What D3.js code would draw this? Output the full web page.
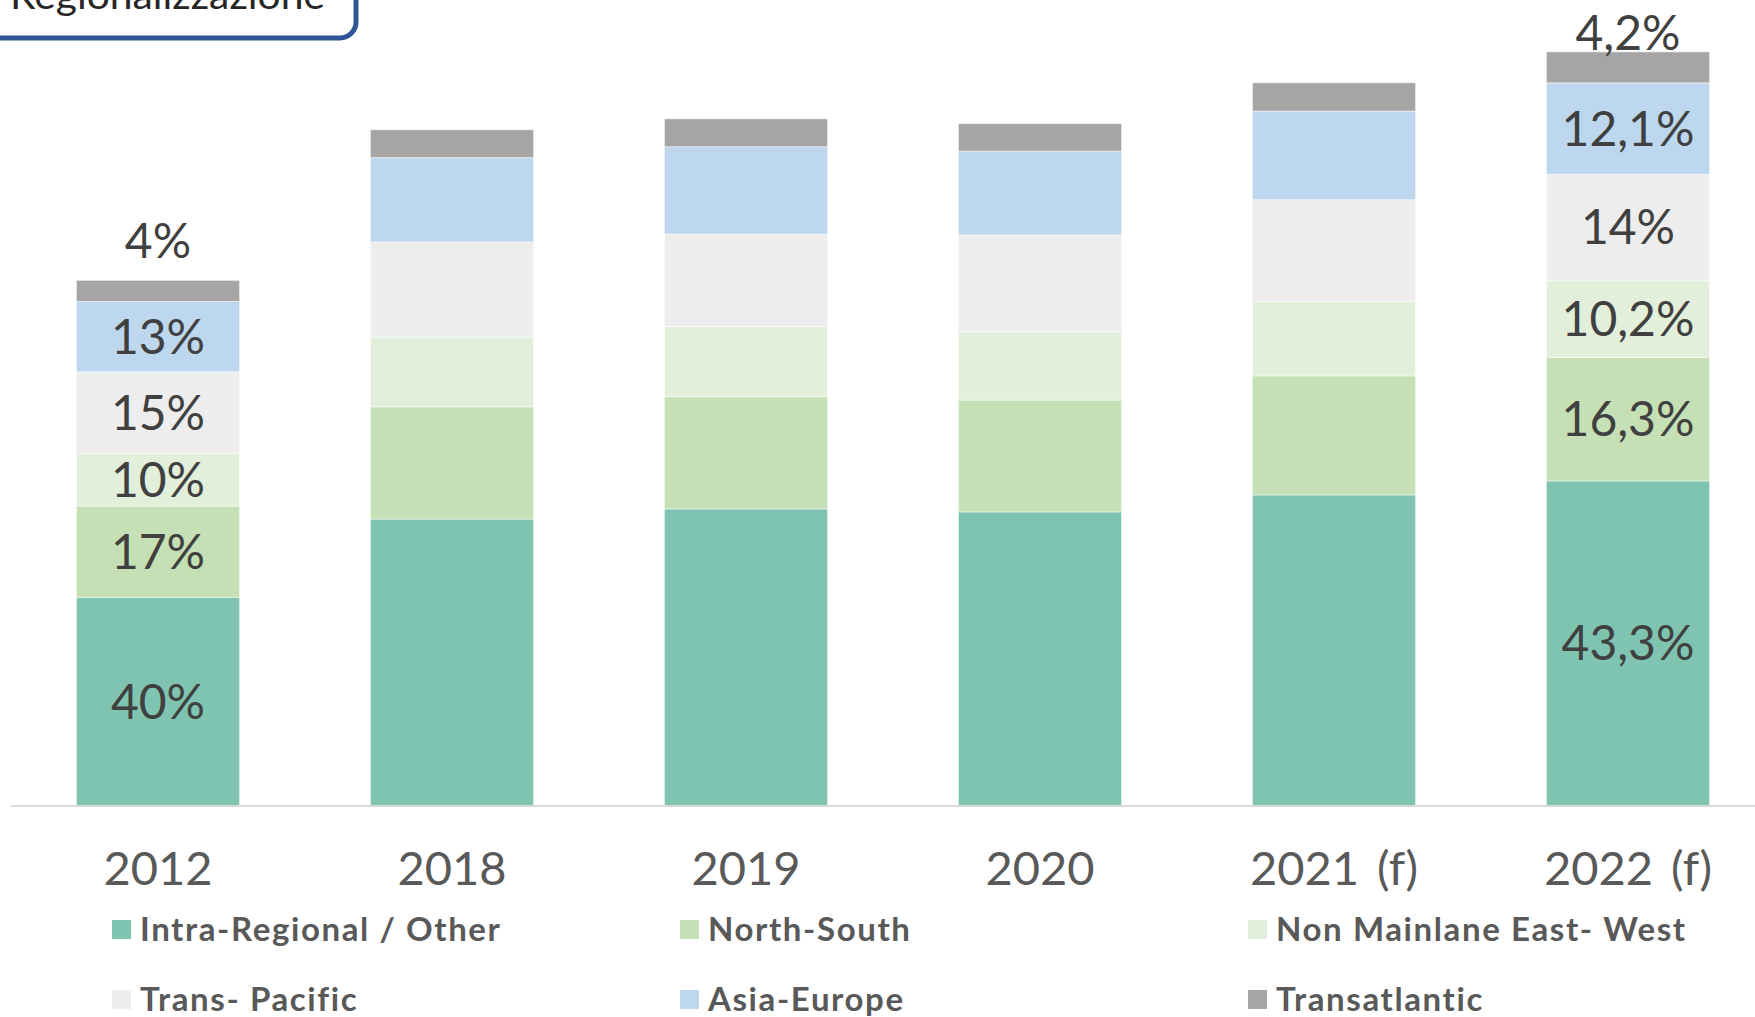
<!DOCTYPE html>
<html>
<head>
<meta charset="utf-8">
<script src="https://cdn.jsdelivr.net/npm/d3@7"></script>
<style>
  html, body { margin: 0; padding: 0; background: #fff; }
  svg { display: block; }
</style>
</head>
<body>
<svg id="chart" width="1755" height="1017"></svg>
<script>
// ---------- DATA ----------
const categories = ["2012", "2018", "2019", "2020", "2021 (f)", "2022 (f)"];
const seriesKeys = ["intra", "northSouth", "nonMainlane", "transPacific", "asiaEurope", "transatlantic"];
const seriesNames = ["Intra-Regional / Other", "North-South", "Non Mainlane East- West", "Trans- Pacific", "Asia-Europe", "Transatlantic"];
// volumes (approx. million TEU)
const intra         = [61.4, 84.4, 87.4, 86.5, 91.5, 95.6];
const northSouth    = [26.8, 33.0, 33.0, 32.9, 35.0, 36.3];
const nonMainlane   = [15.5, 20.5, 20.6, 20.1, 21.9, 22.6];
const transPacific  = [24.0, 28.0, 27.2, 28.4, 29.9, 31.3];
const asiaEurope    = [20.7, 24.8, 25.7, 24.7, 26.1, 26.9];
const transatlantic = [6.2, 8.2, 8.2, 8.1, 8.3, 9.1];
// share labels shown on the first and last bar (series order)
const labeledCategories = ["2012", "2022 (f)"];
const labels2012 = ["40%", "17%", "10%", "15%", "13%", "4%"];
const labels2022 = ["43,3%", "16,3%", "10,2%", "14%", "12,1%", "4,2%"];
const boxTitle = "Regionalizzazione";

// ---------- STYLE ----------
const colors = ["#7FC4B0", "#C5E0B4", "#E2EFDA", "#EDEDED", "#BDD7EE", "#A5A5A5"];
const FONT = "Lato, 'Open Sans', sans-serif";

const svg = d3.select("#chart");

const rows = categories.map((c, i) => ({
  cat: c,
  intra: intra[i], northSouth: northSouth[i], nonMainlane: nonMainlane[i],
  transPacific: transPacific[i], asiaEurope: asiaEurope[i], transatlantic: transatlantic[i]
}));

const x = d3.scaleBand().domain(categories).range([11, 1775]).paddingInner(0.445).paddingOuter(0.2225);
const y = d3.scaleLinear().domain([0, 230]).range([806, 24]);

const stacked = d3.stack().keys(seriesKeys)(rows);

// bars
const layers = svg.append("g").selectAll("g")
  .data(stacked).join("g")
  .attr("fill", (d, i) => colors[i]);

layers.selectAll("rect")
  .data(d => d)
  .join("rect")
  .attr("x", d => x(d.data.cat))
  .attr("width", x.bandwidth())
  .attr("y", d => y(d[1]))
  .attr("height", d => y(d[0]) - y(d[1]))
  .attr("stroke", "#ffffff")
  .attr("stroke-opacity", 0.5)
  .attr("stroke-width", 1);

// baseline axis
const xAxis = d3.axisBottom(x).tickSize(0).tickPadding(0);
const axisG = svg.append("g").attr("transform", `translate(0,${y(0)})`).call(xAxis);
axisG.select(".domain").attr("stroke", "#D9D9D9").attr("stroke-width", 2).attr("d", "M11,0H1755");
axisG.selectAll(".tick text")
  .attr("y", 79)
  .attr("dy", 0)
  .attr("fill", "#595959")
  .style("font-family", FONT)
  .style("font-size", "47px")
  .style("word-spacing", "6px");

// data labels
const labelSets = [labels2012, labels2022];
labeledCategories.forEach((cat, ci) => {
  const idx = categories.indexOf(cat);
  const labs = labelSets[ci];
  stacked.forEach((layer, si) => {
    const d = layer[idx];
    const cx = x(cat) + x.bandwidth() / 2;
    let yy;
    if (si === stacked.length - 1) {
      yy = y(d[1]) - (ci === 0 ? 22 : 2);
    } else {
      yy = (y(d[0]) + y(d[1])) / 2 + 17;
    }
    svg.append("text")
      .attr("x", cx)
      .attr("y", yy)
      .attr("text-anchor", "middle")
      .attr("fill", "#404040")
      .style("font-family", FONT)
      .style("font-size", "48px")
      .text(labs[si]);
  });
});

// legend
const legendPos = [
  [112, 941], [680, 941], [1248, 941],
  [112, 1011], [680, 1011], [1248, 1011]
];
const legend = svg.append("g");
seriesNames.forEach((name, i) => {
  const [lx, ly] = legendPos[i];
  legend.append("rect").attr("x", lx).attr("y", ly - 21).attr("width", 19).attr("height", 19).attr("fill", colors[i]);
  legend.append("text")
    .attr("x", lx + 28).attr("y", ly)
    .attr("fill", "#595959")
    .style("font-family", FONT)
    .style("font-weight", 700)
    .style("font-size", "33px")
    .style("letter-spacing", "1.6px")
    .text(name);
});

// title box (cut off at top, as in the original)
svg.append("rect")
  .attr("x", -30).attr("y", -70)
  .attr("width", 386).attr("height", 108)
  .attr("rx", 16)
  .attr("fill", "none")
  .attr("stroke", "#2F5597")
  .attr("stroke-width", 5);
svg.append("text")
  .attr("x", 10).attr("y", 9)
  .attr("fill", "#262626")
  .style("font-family", FONT)
  .style("font-size", "38px")
  .attr("textLength", 315)
  .attr("lengthAdjust", "spacingAndGlyphs")
  .text(boxTitle);
</script>
</body>
</html>
